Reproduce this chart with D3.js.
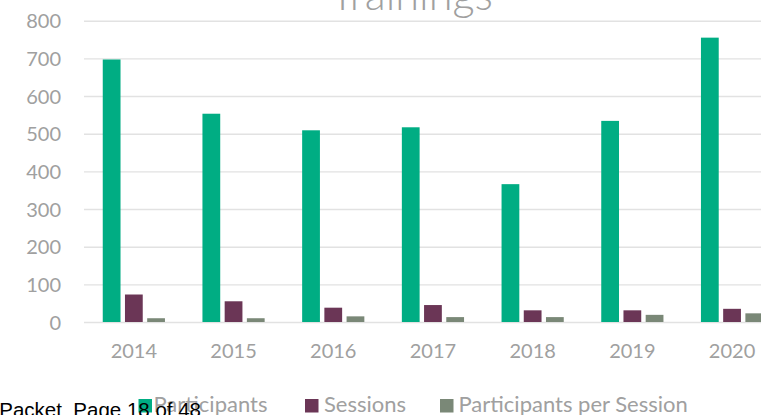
<!DOCTYPE html>
<html>
<head>
<meta charset="utf-8">
<script src="https://cdn.jsdelivr.net/npm/d3@7"></script>
<style>
  html, body { margin: 0; padding: 0; background: #fff; overflow: hidden; }
  svg { display: block; }
</style>
</head>
<body>
<svg id="chart" width="761" height="415"></svg>
<script>
const years = ["2014", "2015", "2016", "2017", "2018", "2019", "2020"];
const seriesNames = ["Participants", "Sessions", "Participants per Session"];
const participants = [697, 553, 509, 517, 366, 534, 755];
const sessions = [73, 55, 38, 45, 31, 31, 35];
const perSession = [10, 10, 15, 13, 13, 19, 23];
const yTicks = [0, 100, 200, 300, 400, 500, 600, 700, 800];
const colors = ["#00AD83", "#6B3656", "#7A8877"];
const titleText = "Trainings";
const footerText = "Packet  Page 18 of 48";

const seriesValues = [participants, sessions, perSession];
const rows = years.map((y, i) => ({ year: y, values: seriesNames.map((s, k) => ({ key: s, value: seriesValues[k][i], idx: k })) }));

const svg = d3.select("#chart");
const grey = "#A0A0A0";
const font = "Lato, 'Open Sans', sans-serif";

const x0 = d3.scaleBand().domain(years).range([84, 84 + 7 * 99.7]).paddingInner(0).paddingOuter(0);
const groupW = 62.2;
const x1 = d3.scaleBand().domain(seriesNames).range([-groupW / 2, groupW / 2]).paddingInner(0.2).paddingOuter(0);
const y = d3.scaleLinear().domain([0, 800]).range([322, 20.7]);

// gridlines
const gAxisY = svg.append("g").attr("transform", "translate(84,0)")
  .call(d3.axisLeft(y).tickValues(yTicks).tickSize(-720).tickPadding(23).tickFormat(d3.format("d")));
gAxisY.select(".domain").remove();
gAxisY.selectAll(".tick line").attr("stroke", "#E2E2E2").attr("stroke-width", 1.4);
gAxisY.selectAll(".tick text").attr("fill", grey).attr("font-family", font).attr("font-size", 20).attr("dy", "0.36em");

// bars
const groups = svg.append("g").selectAll("g").data(rows).join("g")
  .attr("transform", d => `translate(${x0(d.year) + x0.bandwidth() / 2},0)`);
groups.selectAll("rect").data(d => d.values).join("rect")
  .attr("x", d => x1(d.key))
  .attr("width", x1.bandwidth())
  .attr("y", d => y(d.value))
  .attr("height", d => y(0) - y(d.value))
  .attr("fill", d => colors[d.idx]);

// x axis labels
const gAxisX = svg.append("g").attr("transform", "translate(0,322)")
  .call(d3.axisBottom(x0).tickSize(0).tickPadding(22));
gAxisX.select(".domain").remove();
gAxisX.selectAll(".tick text").attr("fill", grey).attr("font-family", font).attr("font-size", 20).attr("dy", "0.72em");

// title
const title = svg.append("text").text(titleText)
  .attr("x", 411.5).attr("y", 10).attr("text-anchor", "middle")
  .attr("fill", grey).attr("font-family", font).attr("font-weight", 300).attr("font-size", 36);
const tl = title.node().getComputedTextLength();
title.attr("font-size", 36 * 163 / tl);

// legend
const legendItems = [
  { x: 138.5, tx: 153.5 },
  { x: 305, tx: 324 },
  { x: 440, tx: 458.5 }
];
const legend = svg.append("g");
seriesNames.forEach((s, k) => {
  legend.append("rect").attr("x", legendItems[k].x).attr("y", 399).attr("width", 13.5).attr("height", 13.5).attr("fill", colors[k]);
  legend.append("text").text(s).attr("x", legendItems[k].tx).attr("y", 412)
    .attr("fill", grey).attr("font-family", font).attr("font-size", 22);
});

// footer overlay
svg.append("text").text(footerText)
  .attr("x", 201).attr("y", 416.5).attr("text-anchor", "end")
  .attr("xml:space", "preserve").style("white-space", "pre")
  .attr("fill", "#000").attr("font-family", "'Liberation Sans', Arial, sans-serif").attr("font-size", 20.5);
</script>
</body>
</html>
